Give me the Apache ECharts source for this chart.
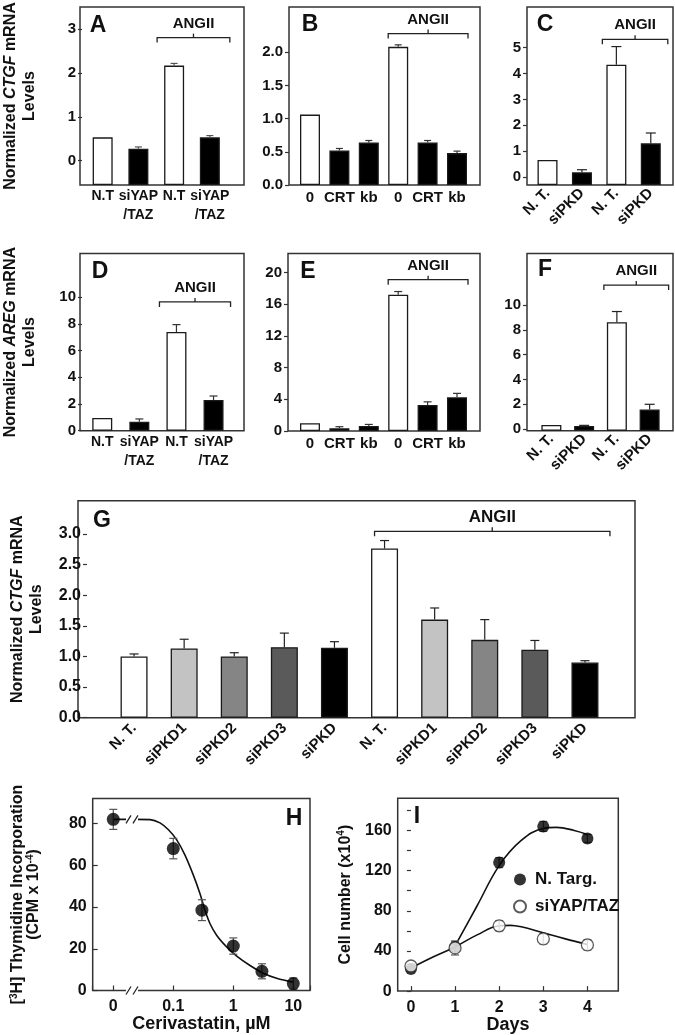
<!DOCTYPE html>
<html><head><meta charset="utf-8">
<script src="https://cdn.jsdelivr.net/npm/echarts@6/dist/echarts.min.js"></script>
<style>html,body{margin:0;padding:0;background:#fff}#c{width:675px;height:1035px}</style>
</head><body><div id="c"></div><script>
// ---------------- DATA ----------------
const aCats = ['N.T', 'siYAP\n/TAZ', 'N.T', 'siYAP\n/TAZ'];
const aVals = [0.53, 0.27, 2.17, 0.53];
const aErrs = [0, 0.04, 0.05, 0.04];
const aTicks = [0, 1, 2, 3];

const bCats = ['0', 'CRT', 'kb', '0', 'CRT', 'kb'];
const bVals = [1.06, 0.52, 0.64, 2.08, 0.64, 0.48];
const bErrs = [0, 0.03, 0.03, 0.03, 0.03, 0.03];
const bTicks = [0, 0.5, 1, 1.5, 2];

const cCats = ['N. T.', 'siPKD', 'N. T.', 'siPKD'];
const cVals = [0.66, 0.18, 4.34, 1.30];
const cErrs = [0, 0.1, 0.7, 0.4];
const cTicks = [0, 1, 2, 3, 4, 5];

const dCats = ['N.T', 'siYAP\n/TAZ', 'N.T', 'siYAP\n/TAZ'];
const dVals = [0.95, 0.68, 7.4, 2.3];
const dErrs = [0, 0.2, 0.55, 0.3];
const dTicks = [0, 2, 4, 6, 8, 10];

const eCats = ['0', 'CRT', 'kb', '0', 'CRT', 'kb'];
const eVals = [0.97, 0.34, 0.63, 17.2, 3.28, 4.25];
const eErrs = [0, 0.2, 0.2, 0.4, 0.4, 0.5];
const eTicks = [0, 4, 8, 12, 16, 20];

const fCats = ['N. T.', 'siPKD', 'N. T.', 'siPKD'];
const fVals = [0.32, 0.24, 8.6, 1.56];
const fErrs = [0, 0.05, 0.87, 0.43];
const fTicks = [0, 2, 4, 6, 8, 10];

const gCats = ['N. T.', 'siPKD1', 'siPKD2', 'siPKD3', 'siPKD', 'N. T.', 'siPKD1', 'siPKD2', 'siPKD3', 'siPKD'];
const gVals = [1.0, 1.13, 1.0, 1.15, 1.14, 2.76, 1.6, 1.27, 1.11, 0.9];
const gErrs = [0.04, 0.15, 0.06, 0.23, 0.1, 0.13, 0.19, 0.33, 0.15, 0.03];
const gTicks = [0, 0.5, 1, 1.5, 2, 2.5, 3];

// H: cerivastatin dose response (dose 0 is drawn at the axis-break position)
const hDose = [0, 0.1, 0.3, 1, 3, 10];
const hVals = [82, 68, 38.5, 21.3, 9.2, 3.3];
const hErrs = [4.8, 4.9, 5, 3.9, 3.6, 2.7];
const hFitDose = [0, 0.0175, null, 0.0245, 0.041, 0.06, 0.083, 0.114, 0.156, 0.215, 0.278, 0.337, 0.408, 0.527, 0.774, 1.14, 1.9, 3.16, 5.27, 10];
const hFitVals = [82, 82, null, 82, 81.9, 80.3, 77, 72.2, 65, 55.4, 46.5, 38.5, 32.1, 26.5, 20.9, 16.5, 12, 8.3, 5.9, 4];
const hXTickLabels = ['0', '0.1', '1', '10'];
const hYTicks = [0, 20, 40, 60, 80];

// I: cell number
const iDays = [0, 1, 2, 3, 4];
const iNT = [22, 44, 128, 164, 152];
const iNTErr = [2, 5, 5, 5, 4];
const iSi = [25, 43, 65, 52, 46];
const iSiErr = [2, 7, 5, 5, 5];
const iNTFitDays = [1, 1.5, 2, 2.5, 3, 3.3, 3.7, 4];
const iNTFit = [45, 85, 125, 150, 162, 163, 160, 156];
const iSiFitDays = [0, 0.5, 1, 1.5, 2, 2.25, 2.5, 3, 3.5, 4];
const iSiFit = [23, 34, 44, 56, 65, 65.5, 64, 58, 52, 46.5];
const iXTicks = [0, 1, 2, 3, 4];
const iYLabels = [0, 40, 80, 120, 160];
const iYTicks = [0, 20, 40, 60, 80, 100, 120, 140, 160, 180];

// ---------------- CHART ----------------
const FONT = "'Liberation Sans', Arial, Helvetica, sans-serif";
const INK = '#111';
const option = { animation: false, textStyle: { fontFamily: FONT }, grid: [], xAxis: [], yAxis: [], series: [], graphic: [] };
function addGrid(g) { option.grid.push(g); return option.grid.length - 1; }
function addX(a) { option.xAxis.push(a); return option.xAxis.length - 1; }
function addY(a) { option.yAxis.push(a); return option.yAxis.length - 1; }
function lbl(fs) { return { fontSize: fs, fontWeight: 'bold', fontFamily: FONT, color: INK }; }

function errRender(capW, color, both) {
  return function (params, api) {
    const x = api.value(0), v = api.value(1), e = api.value(2);
    if (!e) return null;
    const lo = api.coord([x, both ? v - e : v]);
    const hi = api.coord([x, v + e]);
    const ls = { stroke: color, lineWidth: 1.2 };
    const ch = [
      { type: 'line', shape: { x1: lo[0], y1: lo[1], x2: hi[0], y2: hi[1] }, style: ls },
      { type: 'line', shape: { x1: hi[0] - capW / 2, y1: hi[1], x2: hi[0] + capW / 2, y2: hi[1] }, style: ls }
    ];
    if (both) ch.push({ type: 'line', shape: { x1: lo[0] - capW / 2, y1: lo[1], x2: lo[0] + capW / 2, y2: lo[1] }, style: ls });
    return { type: 'group', children: ch };
  };
}

function nameStyle(fs, lh) {
  const base = { fontSize: fs, fontWeight: 'bold', fontFamily: FONT, color: INK, lineHeight: lh };
  return Object.assign({}, base, {
    rich: {
      i: Object.assign({}, base, { fontStyle: 'italic' }),
      sup: { fontSize: Math.round(fs * 0.65), fontWeight: 'bold', fontFamily: FONT, color: INK, verticalAlign: 'top', lineHeight: lh }
    }
  });
}

function barPanel(p) {
  const [fl, ft, fr, fb] = p.frame;
  const fi = addGrid({ left: fl, top: ft, width: fr - fl, height: fb - ft, show: true, borderColor: '#333', borderWidth: 1.5, backgroundColor: 'transparent' });
  addX({ gridIndex: fi, type: 'value', show: false });
  addY({ gridIndex: fi, type: 'value', show: false });
  const di = addGrid({ left: p.data[0], top: ft, width: p.data[1] - p.data[0], height: fb - ft });
  const xi = addX({
    gridIndex: di, type: 'category', data: p.cats,
    axisLine: { show: false }, axisTick: { show: false },
    axisLabel: Object.assign(lbl(p.xfs), { interval: 0, rotate: p.rotate || 0, margin: p.xMargin, lineHeight: p.xfs + 5 })
  });
  const yAx = {
    gridIndex: di, type: 'value', min: p.min, max: p.max, startValue: p.min,
    offset: p.data[0] - fl,
    axisLine: { show: false }, splitLine: { show: false },
    axisTick: { show: true, customValues: p.ticks, length: 4, lineStyle: { color: '#333', width: 1.2 } },
    axisLabel: Object.assign(lbl(p.yfs), { customValues: p.ticks, margin: 6, formatter: v => v.toFixed(p.dec) })
  };
  if (p.name) Object.assign(yAx, { name: p.name, nameLocation: 'middle', nameRotate: 90, nameGap: p.nameGap, nameTextStyle: nameStyle(16, 19) });
  const yi = addY(yAx);
  option.series.push({
    type: 'bar', xAxisIndex: xi, yAxisIndex: yi, data: p.vals, barWidth: p.barW, z: 3,
    itemStyle: { color: prm => p.fills[prm.dataIndex % p.fills.length], borderColor: '#1a1a1a', borderWidth: 1.3 }
  });
  option.series.push({
    type: 'custom', xAxisIndex: xi, yAxisIndex: yi, z: 4, silent: true,
    data: p.vals.map((v, i) => [i, v, p.errs[i]]), renderItem: errRender(p.capW, p.errColor, false)
  });
  const br = p.bracket;
  option.series.push({
    type: 'custom', xAxisIndex: xi, yAxisIndex: yi, z: 5, silent: true, data: [[br.from, br.y]],
    renderItem: function (params, api) {
      const a = api.coord([br.from, br.y]), b = api.coord([br.to, br.y]);
      const x1 = a[0] - br.padL, x2 = b[0] + br.padR, y = a[1], xm = (x1 + x2) / 2;
      const ls = { stroke: '#222', lineWidth: 1.3, fill: null };
      return {
        type: 'group', children: [
          { type: 'polyline', shape: { points: [[x1, y + 5], [x1, y], [x2, y], [x2, y + 5]] }, style: ls },
          { type: 'line', shape: { x1: xm, y1: y, x2: xm, y2: y - 4 }, style: ls },
          { type: 'text', x: xm, y: y - 14, style: { text: 'ANGII', font: 'bold ' + br.fs + 'px ' + FONT, fill: INK, align: 'center', verticalAlign: 'middle', textAlign: 'center', textVerticalAlign: 'middle' } }
        ]
      };
    }
  });
}

const WB = ['#ffffff', '#000000'];
const WBB = ['#ffffff', '#000000', '#000000'];
const GP = ['#ffffff', '#c3c3c3', '#858585', '#5a5a5a', '#000000'];

barPanel({ frame: [80, 7, 244, 185], data: [82.8, 227.7], cats: aCats, vals: aVals, errs: aErrs, ticks: aTicks, dec: 0,
  min: -0.56, max: 3.51, fills: WB, barW: 20, capW: 7, errColor: '#555', xfs: 14, yfs: 15, xMargin: 2,
  name: 'Normalized {i|CTGF} mRNA\nLevels', nameGap: 43, bracket: { from: 2, to: 3, y: 2.81, padL: 17, padR: 20, fs: 15 } });
barPanel({ frame: [289, 7, 480, 185], data: [295.3, 471.7], cats: bCats, vals: bVals, errs: bErrs, ticks: bTicks, dec: 1,
  min: 0, max: 2.68, fills: WBB, barW: 20, capW: 7, errColor: '#333', xfs: 15, yfs: 15, xMargin: 3,
  bracket: { from: 3, to: 5, y: 2.28, padL: 10, padR: 11, fs: 15 } });
barPanel({ frame: [527, 7, 673, 185], data: [530.3, 668], cats: cCats, vals: cVals, errs: cErrs, ticks: cTicks, dec: 0,
  min: -0.31, max: 6.57, fills: WB, barW: 20, capW: 10, errColor: '#222', xfs: 15, yfs: 15, xMargin: 6, rotate: 45,
  bracket: { from: 2, to: 3, y: 5.32, padL: 14, padR: 17, fs: 15 } });
barPanel({ frame: [80, 253.5, 244, 430.7], data: [81.7, 232.1], cats: dCats, vals: dVals, errs: dErrs, ticks: dTicks, dec: 0,
  min: 0, max: 13.28, fills: WB, barW: 20, capW: 8, errColor: '#333', xfs: 14, yfs: 15, xMargin: 2,
  name: 'Normalized {i|AREG} mRNA\nLevels', nameGap: 43, bracket: { from: 2, to: 3, y: 9.65, padL: 17, padR: 17, fs: 15 } });
barPanel({ frame: [288, 253.5, 480, 431], data: [295.3, 471.7], cats: eCats, vals: eVals, errs: eErrs, ticks: eTicks, dec: 0,
  min: 0, max: 22.4, fills: WBB, barW: 20, capW: 8, errColor: '#333', xfs: 15, yfs: 15, xMargin: 3,
  bracket: { from: 3, to: 5, y: 19.1, padL: 10, padR: 11, fs: 15 } });
barPanel({ frame: [527, 253.5, 673, 430.7], data: [535, 666], cats: fCats, vals: fVals, errs: fErrs, ticks: fTicks, dec: 0,
  min: -0.14, max: 14.15, fills: WB, barW: 20, capW: 10, errColor: '#222', xfs: 15, yfs: 15, xMargin: 6, rotate: 45,
  bracket: { from: 2, to: 3, y: 11.6, padL: 13, padR: 19, fs: 15 } });
barPanel({ frame: [78, 500.7, 635, 717.7], data: [100, 610], cats: gCats, vals: gVals, errs: gErrs, ticks: gTicks, dec: 1,
  min: 0, max: 3.54, fills: GP, barW: 27, capW: 9, errColor: '#222', xfs: 15, yfs: 16, xMargin: 8, rotate: 45,
  name: 'Normalized {i|CTGF} mRNA\nLevels', nameGap: 41, bracket: { from: 5, to: 9, y: 3.04, padL: 10, padR: 25, fs: 17 } });

// ---------- Panel H ----------
const ZERO_POS = 0.01;      // where dose "0" is drawn on the broken log axis
const BREAK_POS = 0.0205;   // axis-break position
const hx = d => (d === 0 ? ZERO_POS : d);
const hg = addGrid({ left: 92.7, top: 798.5, width: 217.3, height: 192, show: true, borderColor: '#333', borderWidth: 1.5 });
const hxi = addX({
  gridIndex: hg, type: 'log', logBase: 10, min: 0.00454, max: 18.97,
  axisLine: { show: false }, splitLine: { show: false }, minorTick: { show: false },
  axisTick: { show: true, inside: true, length: 5, lineStyle: { color: '#333', width: 1.2 } },
  axisLabel: Object.assign(lbl(16), {
    margin: 8, showMinLabel: true, showMaxLabel: true,
    formatter: v => { const l = Math.log10(v); const r = Math.round(l); if (Math.abs(l - r) > 1e-6 || r < -2 || r > 1) return ''; return hXTickLabels[r + 2]; }
  }),
  name: 'Cerivastatin, µM', nameLocation: 'middle', nameGap: 22, nameTextStyle: lbl(18)
});
const hyi = addY({
  gridIndex: hg, type: 'value', min: 0, max: 92,
  axisLine: { show: false }, splitLine: { show: false },
  axisTick: { show: true, inside: true, length: 5, customValues: hYTicks, lineStyle: { color: '#333', width: 1.2 } },
  axisLabel: Object.assign(lbl(16), { customValues: hYTicks, margin: 6 }),
  name: '[{sup|3}H] Thymidine Incorporation\n(CPM x 10{sup|-4})', nameLocation: 'middle', nameRotate: 90, nameGap: 51,
  nameTextStyle: nameStyle(16, 16)
});
option.series.push({
  type: 'line', xAxisIndex: hxi, yAxisIndex: hyi, smooth: 0.35, symbol: 'none', connectNulls: false, z: 2,
  lineStyle: { color: '#111', width: 1.6 },
  data: hFitDose.map((d, i) => d === null ? [BREAK_POS, '-'] : [hx(d), hFitVals[i]])
});
option.series.push({
  type: 'custom', xAxisIndex: hxi, yAxisIndex: hyi, z: 3, silent: true,
  data: hDose.map((d, i) => [hx(d), hVals[i], hErrs[i]]), renderItem: errRender(8, '#555', true)
});
option.series.push({
  type: 'scatter', xAxisIndex: hxi, yAxisIndex: hyi, z: 4, symbol: 'circle', symbolSize: 13,
  itemStyle: { color: '#000' }, data: hDose.map((d, i) => [hx(d), hVals[i]])
});
option.series.push({
  type: 'custom', xAxisIndex: hxi, yAxisIndex: hyi, z: 6, silent: true,
  data: [[BREAK_POS, hFitVals[0]], [BREAK_POS, 0]],
  renderItem: function (params, api) {
    const c = api.coord([api.value(0), api.value(1)]);
    const ls = { stroke: '#222', lineWidth: 1.3 };
    return {
      type: 'group', children: [
        { type: 'rect', shape: { x: c[0] - 6, y: c[1] - 3, width: 12, height: 6 }, style: { fill: '#fff' } },
        { type: 'line', shape: { x1: c[0] - 6, y1: c[1] + 4, x2: c[0] - 1, y2: c[1] - 4 }, style: ls },
        { type: 'line', shape: { x1: c[0] + 1, y1: c[1] + 4, x2: c[0] + 6, y2: c[1] - 4 }, style: ls }
      ]
    };
  }
});

// ---------- Panel I ----------
const ig = addGrid({ left: 397.7, top: 798.3, width: 220.6, height: 193.4, show: true, borderColor: '#333', borderWidth: 1.5 });
const ixi = addX({
  gridIndex: ig, type: 'value', min: -0.3, max: 4.7,
  axisLine: { show: false }, splitLine: { show: false },
  axisTick: { show: true, inside: true, length: 5, customValues: iXTicks, lineStyle: { color: '#333', width: 1.2 } },
  axisLabel: Object.assign(lbl(16), { customValues: iXTicks, margin: 8 }),
  name: 'Days', nameLocation: 'middle', nameGap: 22, nameTextStyle: lbl(18)
});
const iyi = addY({
  gridIndex: ig, type: 'value', min: 0, max: 192,
  axisLine: { show: false }, splitLine: { show: false },
  axisTick: { show: true, length: 4, customValues: iYTicks, lineStyle: { color: '#333', width: 1.2 } },
  axisLabel: Object.assign(lbl(16), { customValues: iYLabels, margin: 6 }),
  name: 'Cell number (x10{sup|4})', nameLocation: 'middle', nameRotate: 90, nameGap: 43, nameTextStyle: nameStyle(16, 18)
});
option.series.push({
  type: 'line', xAxisIndex: ixi, yAxisIndex: iyi, smooth: 0.4, symbol: 'none', z: 2, name: 'fitNT',
  lineStyle: { color: '#111', width: 1.6 }, data: iNTFitDays.map((d, i) => [d, iNTFit[i]])
});
option.series.push({
  type: 'line', xAxisIndex: ixi, yAxisIndex: iyi, smooth: 0.4, symbol: 'none', z: 2, name: 'fitSi',
  lineStyle: { color: '#111', width: 1.6 }, data: iSiFitDays.map((d, i) => [d, iSiFit[i]])
});
option.series.push({
  type: 'custom', xAxisIndex: ixi, yAxisIndex: iyi, z: 3, silent: true,
  data: iDays.map((d, i) => [d, iNT[i], iNTErr[i]]), renderItem: errRender(8, '#555', true)
});
option.series.push({
  type: 'custom', xAxisIndex: ixi, yAxisIndex: iyi, z: 3, silent: true,
  data: iDays.map((d, i) => [d, iSi[i], iSiErr[i]]), renderItem: errRender(8, '#555', true)
});
option.series.push({
  type: 'scatter', name: 'N. Targ.', xAxisIndex: ixi, yAxisIndex: iyi, z: 4, symbol: 'circle', symbolSize: 12,
  itemStyle: { color: '#000' }, data: iDays.map((d, i) => [d, iNT[i]])
});
option.series.push({
  type: 'scatter', name: 'siYAP/TAZ', xAxisIndex: ixi, yAxisIndex: iyi, z: 5, symbol: 'circle', symbolSize: 12,
  itemStyle: { color: '#fff', borderColor: '#333', borderWidth: 1.3 }, data: iDays.map((d, i) => [d, iSi[i]])
});
option.legend = {
  data: ['N. Targ.', 'siYAP/TAZ'], orient: 'vertical', left: 508, top: 866, itemWidth: 20, itemHeight: 12, itemGap: 10,
  selectedMode: false, textStyle: lbl(17)
};

// ---------- panel letters ----------
const letters = [['A', 98, 26], ['B', 310, 25], ['C', 545, 25], ['D', 100, 272], ['E', 308, 272], ['F', 545, 270], ['G', 102, 521], ['H', 294, 819], ['I', 417, 817]];
option.graphic = letters.map(([t, x, y]) => ({
  type: 'text', x: x, y: y, z: 10, silent: true,
  style: { text: t, font: 'bold 23px ' + FONT, fill: INK, align: 'center', verticalAlign: 'middle', textAlign: 'center', textVerticalAlign: 'middle' }
}));

const chart = echarts.init(document.getElementById('c'), null, { renderer: 'canvas' });
chart.setOption(option);
</script></body></html>
